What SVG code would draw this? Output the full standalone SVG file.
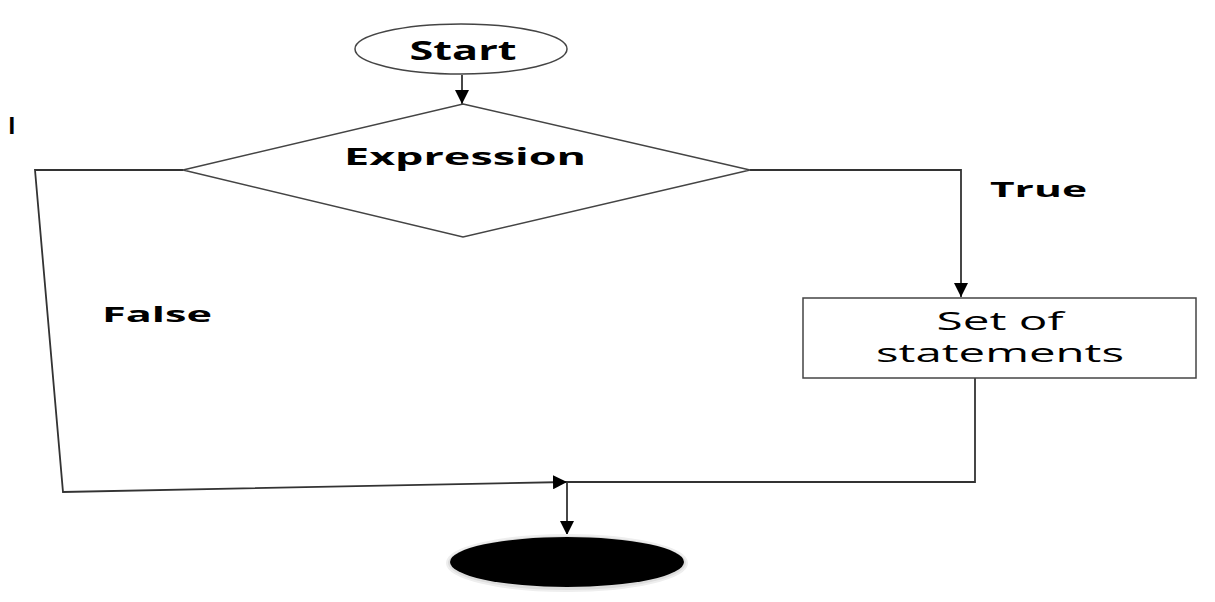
<svg xmlns="http://www.w3.org/2000/svg" width="1215" height="602" viewBox="0 0 1215 602">
  <style>
    .shape { fill: #fff; stroke: #444; stroke-width: 1.5; }
    .conn { fill: none; stroke: #333; stroke-width: 1.8; }
    .lbl { font-family: "Open Sans", "Liberation Sans", Arial, sans-serif; fill: #000; }
    .b { font-weight: bold; }
  </style>
  <defs>
    <marker id="arr" viewBox="0 0 10 10" refX="10" refY="5" markerWidth="14" markerHeight="14" markerUnits="userSpaceOnUse" orient="auto">
      <path d="M0,0 L10,5 L0,10 Z" fill="#000"/>
    </marker>
  </defs>
  <rect width="1215" height="602" fill="#fff"/>

  <g id="connectors">
    <line class="conn" x1="462" y1="75" x2="462" y2="104" marker-end="url(#arr)"/>
    <polyline class="conn" points="750,170 961,170 961,297" marker-end="url(#arr)"/>
    <polyline class="conn" points="183,170 35,170 63,492 567,482" marker-end="url(#arr)"/>
    <polyline class="conn" points="975,378 975,482 567,482"/>
    <line class="conn" x1="567" y1="482" x2="567" y2="535" marker-end="url(#arr)"/>
  </g>

  <g id="start">
    <ellipse class="shape" cx="461" cy="49" rx="106" ry="25"/>
    <text class="lbl b" x="463" y="60" font-size="26" text-anchor="middle" textLength="107" lengthAdjust="spacingAndGlyphs">Start</text>
  </g>

  <g id="expression">
    <polygon class="shape" points="463,104 750,170 463,237 183,170"/>
    <text class="lbl b" x="465" y="165" font-size="24" text-anchor="middle" textLength="242" lengthAdjust="spacingAndGlyphs">Expression</text>
  </g>

  <g id="statements">
    <rect class="shape" x="803" y="298" width="393" height="80"/>
    <text class="lbl" x="1000" y="330" font-size="25" text-anchor="middle" textLength="127" lengthAdjust="spacingAndGlyphs">Set of</text>
    <text class="lbl" x="1000" y="362" font-size="25" text-anchor="middle" textLength="248" lengthAdjust="spacingAndGlyphs">statements</text>
  </g>

  <g id="end">
    <ellipse cx="567" cy="563" rx="120" ry="28" fill="#ddd" stroke="#eee" stroke-width="2"/>
    <ellipse cx="567" cy="562" rx="117" ry="25" fill="#000"/>
  </g>

  <g id="labels">
    <text class="lbl b" x="990" y="197" font-size="22" textLength="97" lengthAdjust="spacingAndGlyphs">True</text>
    <text class="lbl b" x="102" y="322" font-size="22" textLength="110" lengthAdjust="spacingAndGlyphs">False</text>
    <text class="lbl b" x="8" y="134" font-size="23">I</text>
  </g>
</svg>
